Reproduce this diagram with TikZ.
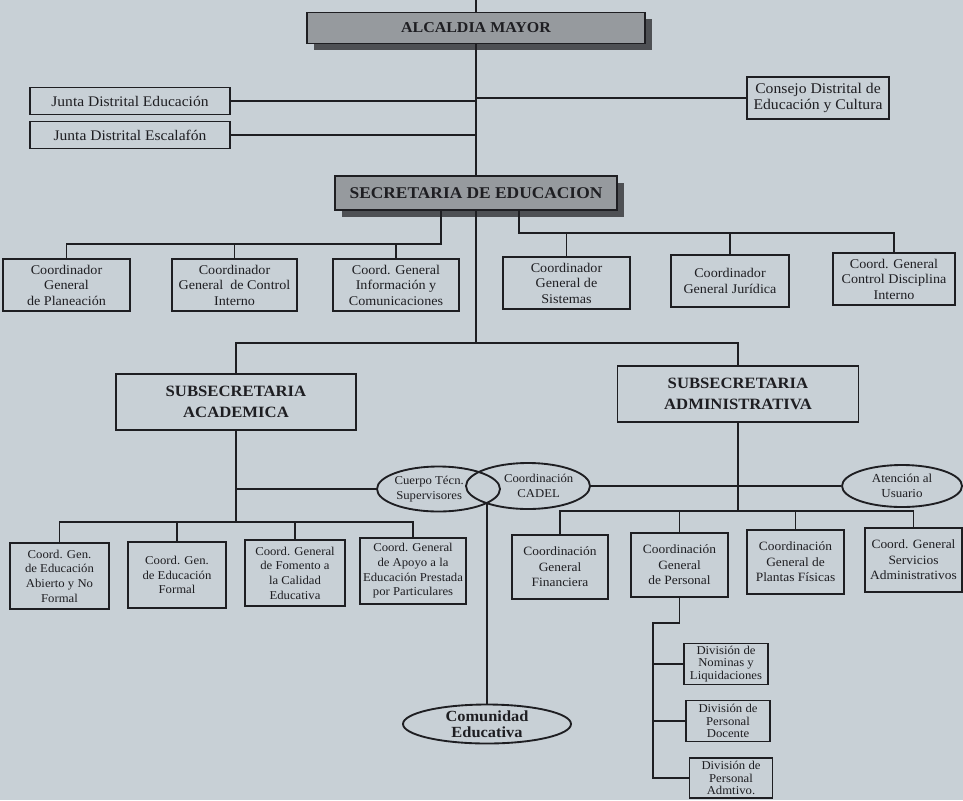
\documentclass[tikz,border=0pt]{standalone}
\usepackage{fontspec}
\setmainfont{Liberation Serif}[FakeStretch=1.06]
\usetikzlibrary{shapes.geometric,shadows}
\definecolor{bg}{RGB}{200,208,214}
\definecolor{ink}{RGB}{30,30,34}
\definecolor{hdr}{RGB}{150,154,158}
\definecolor{shd}{RGB}{78,80,84}
\newcommand{\fs}[2]{\fontsize{#1}{#2}\selectfont}
\begin{document}
\begin{tikzpicture}[x=0.75pt,y=-0.75pt,
  wh/.style 2 args={minimum width=#1*0.75pt, minimum height=#2*0.75pt},
  box/.style={draw=ink, line width=1.4pt, rectangle, align=center, inner sep=1pt, text=ink},
  hdrbox/.style={box, fill=hdr, drop shadow={shadow xshift=5pt, shadow yshift=-5pt, fill=shd, opacity=1}},
  ell/.style={draw=ink, line width=1.4pt, ellipse, align=center, inner sep=0pt, text=ink},
  ln/.style={draw=ink, line width=1pt},
  f1/.style={font=\fs{11}{12.5}},
  f2/.style={font=\fs{10}{11.6}},
  f3/.style={font=\fs{9}{11}},
  f4/.style={font=\fs{9.5}{11.6}},
  f5/.style={font=\fs{9}{9.6}},
  fe/.style={font=\fs{9}{10.8}, align=center, text=ink}
]
\useasboundingbox (0,0) rectangle (963,800);
\fill[bg] (0,0) rectangle (963,800);
\clip (0,0) rectangle (963,800);

% top level
\node[hdrbox, wh={338}{31}, font=\fs{11.3}{12}\bfseries] (alc) at (476,28) {ALCALDIA MAYOR};
\node[box, f1, wh={200}{27}] (je) at (130,101) {Junta Distrital Educación};
\node[box, f1, wh={200}{27}] (jes) at (130,135) {Junta Distrital Escalafón};
\node[box, wh={142}{42}, font=\fs{11.1}{12.5}] (cons) at (818,98) {Consejo Distrital de\\Educación y Cultura};
\node[hdrbox, wh={282}{34}, font=\fs{12.3}{13}\bfseries] (sec) at (476,193) {SECRETARIA DE EDUCACION};

% coordinators row
\node[box, f2, wh={127}{52}] (c1) at (66.5,285) {Coordinador\\General\\de Planeación};
\node[box, f2, wh={125}{52}] (c2) at (234.5,285) {Coordinador\\General \ de Control\\Interno};
\node[box, f2, wh={126}{52}] (c3) at (396,285) {Coord. General\\Información y\\Comunicaciones};
\node[box, f2, wh={127}{52}] (c4) at (566.5,283) {Coordinador\\General de\\Sistemas};
\node[box, f2, wh={118}{52}] (c5) at (730,281) {Coordinador\\General Jurídica};
\node[box, f2, wh={122}{52}] (c6) at (894,279) {Coord. General\\Control Disciplina\\Interno};

% subsecretarias
\node[box, wh={240}{56}, font=\fs{11.8}{16}\bfseries] (acad) at (236,402) {SUBSECRETARIA\\ACADEMICA};
\node[box, wh={241}{56}, font=\fs{11.8}{16}\bfseries] (adm) at (738,394) {SUBSECRETARIA\\ADMINISTRATIVA};

% ellipses
\node[ell, wh={123}{45}, label={[fe, xshift=-7pt]center:{Cuerpo Técn.\\Supervisores}}] (cue) at (438.5,489) {};
\node[ell, wh={124}{46}, label={[fe, xshift=8pt]center:{Coordinación\\CADEL}}] (cad) at (528,486) {};
\node[ell, font=\fs{9.2}{11}, wh={120}{42}] (at) at (902,486) {Atención al\\Usuario};
\node[ell, font=\fs{11.6}{12}\bfseries, wh={168}{39}, inner ysep=-6pt] (com) at (487,724) {Comunidad\\Educativa};

% academic children
\node[box, f3, wh={99}{66}] (a1) at (59.5,576) {Coord. Gen.\\de Educación\\Abierto y No\\Formal};
\node[box, f3, wh={98}{66}] (a2) at (177,575) {Coord. Gen.\\de Educación\\Formal};
\node[box, f3, wh={100}{66}] (a3) at (295,573) {Coord. General\\de Fomento a\\la Calidad\\Educativa};
\node[box, f3, wh={106}{66}] (a4) at (413,571) {Coord. General\\de Apoyo a la\\Educación Prestada\\por Particulares};

% admin children
\node[box, f4, wh={96}{64}] (d1) at (560,567) {Coordinación\\General\\Financiera};
\node[box, f4, wh={97}{64}] (d2) at (679.5,565) {Coordinación\\General\\de Personal};
\node[box, f4, wh={97}{64}] (d3) at (795.5,562) {Coordinación\\General de\\Plantas Físicas};
\node[box, f4, wh={97}{64}] (d4) at (913.5,560) {Coord. General\\Servicios\\Administrativos};

% divisions
\node[box, f5, wh={84}{41}] (v1) at (726,664) {División de\\Nominas y\\Liquidaciones};
\node[box, f5, wh={84}{41}] (v2) at (728,721) {División de\\Personal\\Docente};
\node[box, f5, wh={83}{40}] (v3) at (731,778) {División de\\Personal\\Admtivo.};

% connectors
\coordinate (top) at (476,0);
\draw[ln] (top) -- (alc.north);
\draw[ln] (alc.south) -- (sec.north);
\draw[ln] (je.east) -- (je.east -| alc.south);
\draw[ln] (jes.east) -- (jes.east -| alc.south);
\draw[ln] (cons.west -| alc.south) -- (cons.west);

\coordinate (bl) at (441,244);
\draw[ln] (sec.south -| bl) -- (bl) -| (c1.north);
\draw[ln] (c2.north) -- (c2.north |- bl);
\draw[ln] (c3.north) -- (c3.north |- bl);
\coordinate (br) at (519,233);
\draw[ln] (sec.south -| br) -- (br) -| (c6.north);
\draw[ln] (c4.north) -- (c4.north |- br);
\draw[ln] (c5.north) -- (c5.north |- br);

\coordinate (bs) at (476,343);
\draw[ln] (sec.south) -- (bs);
\draw[ln] (acad.north) -- (acad.north |- bs) -- (adm.north |- bs) -- (adm.north);

\coordinate (ba) at (236,522);
\draw[ln] (acad.south) -- (ba);
\draw[ln] (acad.south |- cue.west) -- (cue.west);
\draw[ln] (a1.north) |- (ba -| a4.north) -- (a4.north);
\draw[ln] (a2.north) -- (a2.north |- ba);
\draw[ln] (a3.north) -- (a3.north |- ba);

\coordinate (bd) at (738,511);
\draw[ln] (adm.south) -- (bd);
\draw[ln] (d1.north) |- (bd -| d4.north) -- (d4.north);
\draw[ln] (d2.north) -- (d2.north |- bd);
\draw[ln] (d3.north) -- (d3.north |- bd);
\draw[ln] (cad.east) -- (at.west);

\coordinate (xi) at (487,503);
\draw[ln] (xi) -- (com.north);

\coordinate (pb) at (653,623);
\draw[ln] (d2.south) |- (pb) -- (pb |- v3.west) -- (v3.west);
\draw[ln] (v1.west -| pb) -- (v1.west);
\draw[ln] (v2.west -| pb) -- (v2.west);
\end{tikzpicture}
\end{document}
